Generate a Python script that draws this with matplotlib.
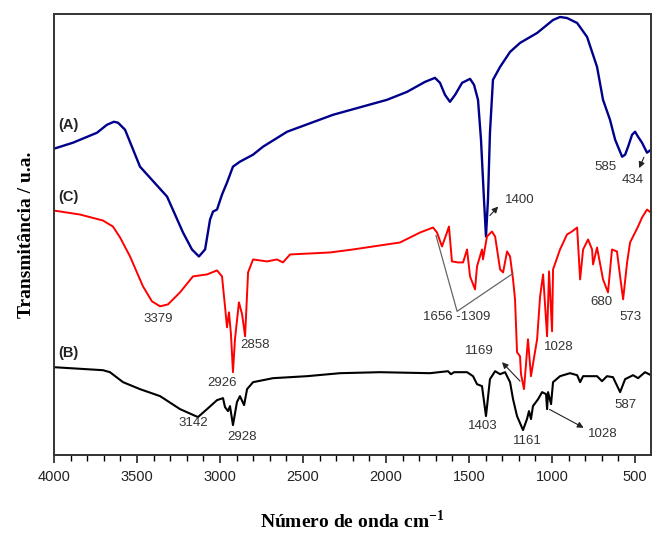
import matplotlib
matplotlib.use("Agg")
import matplotlib.pyplot as plt
from matplotlib.ticker import MultipleLocator

# ---- data (wavenumber cm-1, transmittance a.u.) ----
wn_A = [4000, 3886, 3741, 3681, 3639, 3614, 3572, 3482, 3319, 3223, 3169, 3127, 3090, 3060,
        3042, 3018, 2988, 2958, 2922, 2880, 2801, 2741, 2596, 2319, 1994, 1873, 1765, 1705,
        1675, 1645, 1615, 1584, 1542, 1494, 1470, 1446, 1428, 1410, 1398, 1386, 1374, 1356,
        1313, 1253, 1193, 1090, 994, 952, 910, 849, 789, 729, 693, 651, 620, 578, 560, 542,
        518, 500, 482, 458, 428, 404]
t_A = [307, 313, 323, 331, 334, 333, 326, 289, 259, 223, 206, 199, 206, 236,
       244, 246, 261, 273, 289, 294, 301, 309, 324, 341, 356, 364, 374, 378,
       373, 361, 354, 361, 373, 377, 371, 356, 316, 256, 219, 256, 323, 376,
       389, 404, 413, 423, 436, 439, 438, 433, 419, 389, 356, 336, 316, 299, 301, 309,
       321, 324, 319, 313, 303, 306]

wn_C = [4000, 3843, 3705, 3645, 3602, 3542, 3464, 3410, 3361, 3313, 3241, 3163, 3078, 3018,
        2988, 2970, 2958, 2946, 2934, 2922, 2910, 2886, 2867, 2849, 2831, 2801, 2717, 2657,
        2621, 2578, 2337, 2199, 1916, 1795, 1717, 1693, 1663, 1633, 1621, 1603, 1566, 1536,
        1512, 1494, 1464, 1452, 1422, 1416, 1392, 1362, 1343, 1313, 1295, 1271, 1253, 1235,
        1223, 1211, 1193, 1187, 1169, 1145, 1127, 1090, 1072, 1054, 1030, 1018, 1000, 994,
        952, 910, 880, 849, 831, 813, 783, 759, 753, 729, 693, 663, 639, 609, 590, 572,
        548, 530, 500, 482, 458, 428, 404]
t_C = [245, 241, 235, 229, 218, 199, 169, 154, 149, 151, 163, 179, 181, 185,
       179, 149, 128, 143, 121, 83, 116, 153, 141, 119, 183, 196, 194, 196,
       193, 201, 203, 206, 213, 223, 228, 223, 209, 223, 229, 194, 193, 193,
       206, 179, 166, 189, 206, 196, 219, 224, 219, 186, 183, 204, 199, 176,
       156, 103, 99, 81, 66, 116, 79, 116, 159, 181, 119, 184, 124, 186,
       206, 221, 224, 228, 176, 206, 216, 206, 191, 208, 176, 163, 206, 204, 179, 156,
       193, 213, 223, 229, 238, 246, 243]

wn_B = [4000, 3705, 3663, 3584, 3482, 3361, 3241, 3133, 3078, 3018, 2982, 2970, 2952, 2940,
        2922, 2898, 2880, 2855, 2837, 2801, 2681, 2476, 2277, 2036, 1735, 1627, 1609, 1590,
        1512, 1476, 1452, 1422, 1398, 1374, 1343, 1313, 1283, 1253, 1235, 1211, 1175, 1151,
        1139, 1127, 1115, 1084, 1060, 1036, 1030, 1024, 1006, 994, 952, 892, 849, 831, 813,
        729, 699, 669, 633, 590, 560, 512, 482, 440, 404]
t_B = [88, 85, 83, 73, 66, 59, 46, 38, 46, 55, 57, 48, 44, 49,
       30, 53, 59, 50, 66, 73, 77, 79, 82, 83, 82, 84, 81, 83,
       83, 79, 71, 69, 39, 76, 84, 81, 83, 73, 56, 39, 25, 36,
       44, 36, 49, 56, 63, 61, 46, 63, 51, 73, 79, 82, 80, 73, 79,
       79, 74, 79, 78, 63, 76, 80, 77, 83, 80]

x_ticks = [4000, 3500, 3000, 2500, 2000, 1500, 1000, 500]

# ---- figure ----
fig = plt.figure(figsize=(6.52, 5.34), dpi=100)
ax = fig.add_axes([54/652, 1-455/534, (651-54)/652, (455-14)/534])

line_kw = dict(solid_joinstyle="round", solid_capstyle="round")
ax.plot(wn_A, t_A, color="#00008B", lw=1.7, **line_kw)
ax.plot(wn_C, t_C, color="#FF0000", lw=1.4, **line_kw)
ax.plot(wn_B, t_B, color="#000000", lw=1.5, **line_kw)

ax.set_xlim(4000, 404)
ax.set_ylim(0, 442)
ax.set_xticks(x_ticks)
ax.xaxis.set_minor_locator(MultipleLocator(100))
ax.set_yticks([])
ax.tick_params(axis="x", which="major", direction="out", length=6, width=1.2,
               labelsize=10.5, pad=5, colors="#222222")
ax.tick_params(axis="x", which="minor", direction="out", length=4, width=1.0)
for lab in ax.get_xticklabels():
    lab.set_fontfamily("Liberation Sans")
for s in ax.spines.values():
    s.set_linewidth(1.4)
    s.set_color("#333333")

ax.set_xlabel("Número de onda cm$^{\\mathregular{-1}}$", fontfamily="Liberation Serif",
              fontweight="bold", fontsize=14, labelpad=18)
ax.set_ylabel("Transmitância / u.a.", fontfamily="Liberation Serif",
              fontweight="bold", fontsize=14, labelpad=14)

# series labels
lab_kw = dict(fontfamily="Liberation Sans", fontweight="bold", fontsize=10.5,
              ha="left", va="center", color="#222222")
ax.text(3976, 331, "(A)", **lab_kw)
ax.text(3976, 259, "(C)", **lab_kw)
ax.text(3976, 102, "(B)", **lab_kw)

# peak labels
num_kw = dict(fontfamily="Liberation Sans", fontsize=9.5, ha="center", va="center",
              color="#333333")
peak_labels = [
    ("585", 681, 289), ("434", 512, 276), ("1400", 1193, 256),
    ("3379", 3373, 136), ("2858", 2789, 110), ("2926", 2988, 72),
    ("3142", 3163, 32), ("2928", 2867, 18), ("1656 -1309", 1572, 138),
    ("680", 705, 153), ("573", 530, 138), ("1028", 958, 108),
    ("1169", 1440, 104), ("1403", 1416, 29), ("1161", 1151, 14),
    ("1028", 693, 21), ("587", 560, 50),
]
for txt, x, y in peak_labels:
    ax.text(x, y, txt, **num_kw)

# arrows
arr_kw = dict(arrowstyle="-|>", color="#222222", lw=0.8, mutation_scale=9)
for (x0, y0), (x1, y1) in [((440, 301), (482, 285)),
                           ((1386, 238), (1313, 251)),
                           ((1181, 72), (1313, 95)),
                           ((1030, 47), (795, 26))]:
    ax.annotate("", xy=(x1, y1), xytext=(x0, y0), arrowprops=arr_kw)

# bracket lines for 1656-1309
ax.plot([1699, 1572, 1235], [220, 144, 182], color="#666666", lw=0.9)

fig.savefig("out.png", dpi=100)
